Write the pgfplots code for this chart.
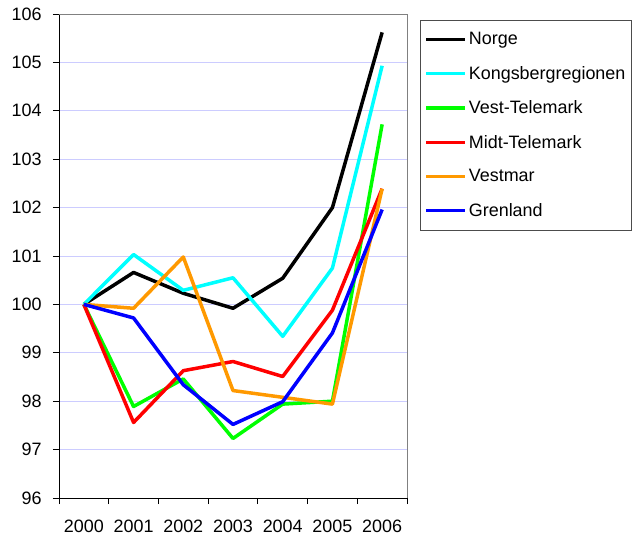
\documentclass[border=0pt]{standalone}
\usepackage{pgfplots}
\pgfplotsset{compat=1.18}
\usepackage{fontspec}
\setmainfont{Liberation Sans}
\definecolor{gridblue}{RGB}{204,204,255}
\definecolor{vorange}{RGB}{255,153,0}
\definecolor{kcyan}{RGB}{0,255,255}
\definecolor{vgreen}{RGB}{0,255,0}
\definecolor{mred}{RGB}{255,0,0}
\definecolor{gblue}{RGB}{0,0,255}
\begin{document}
\begin{tikzpicture}
\useasboundingbox (-59bp,-37bp) rectangle (582bp,498bp);
\begin{axis}[
  at={(0,0)}, anchor=south west,
  scale only axis, width=348bp, height=484bp,
  font=\fontsize{18}{21}\selectfont,
  /pgf/number format/assume math mode=true,
  xmin=-0.5, xmax=6.5, ymin=96, ymax=106,
  axis x line*=bottom, axis y line*=left,
  axis line style={black, line width=0.8bp, -},
  xtick={0,...,6},
  xticklabels={2000,2001,2002,2003,2004,2005,2006},
  major x tick style={draw=none},
  minor xtick={-0.5,0.5,...,6.5},
  minor x tick style={black, line width=0.8bp},
  ytick={96,...,106},
  y tick style={black, line width=0.8bp},
  tick align=outside,
  major tick length=6bp, minor tick length=6bp,
  xticklabel style={yshift=-12bp},
  yticklabel style={xshift=-8bp},
  ymajorgrids, grid style={gridblue, line width=0.6bp},
  every axis plot/.append style={line width=3.5bp, line join=round, mark=none},
  legend cell align=left,
  legend style={at={(axis description cs:1.0374,0.9876)}, anchor=north west,
    draw=black!70, line width=0.8bp, inner xsep=4bp, inner ysep=10bp, row sep=16bp,
    font=\fontsize{18}{21}\selectfont},
  legend image code/.code={\draw[#1] (0bp,0bp) -- (39bp,0bp);},
  clip=false,
]
\draw[gray, line width=0.8bp] (rel axis cs:0,1) -- (rel axis cs:1,1) -- (rel axis cs:1,0);
\addplot[black] coordinates {(0,100)(1,100.66)(2,100.23)(3,99.92)(4,100.54)(5,102.0)(6,105.62)};
\addplot[kcyan] coordinates {(0,100)(1,101.03)(2,100.29)(3,100.55)(4,99.34)(5,100.75)(6,104.93)};
\addplot[vgreen] coordinates {(0,100)(1,97.89)(2,98.46)(3,97.23)(4,97.94)(5,98.0)(6,103.72)};
\addplot[mred] coordinates {(0,100)(1,97.56)(2,98.63)(3,98.82)(4,98.51)(5,99.88)(6,102.39)};
\addplot[vorange] coordinates {(0,100)(1,99.92)(2,100.98)(3,98.22)(4,98.08)(5,97.94)(6,102.39)};
\addplot[gblue] coordinates {(0,100)(1,99.72)(2,98.34)(3,97.52)(4,97.99)(5,99.41)(6,101.96)};
\legend{Norge,Kongsbergregionen,Vest-Telemark,Midt-Telemark,Vestmar,Grenland}
\end{axis}
\end{tikzpicture}
\end{document}
